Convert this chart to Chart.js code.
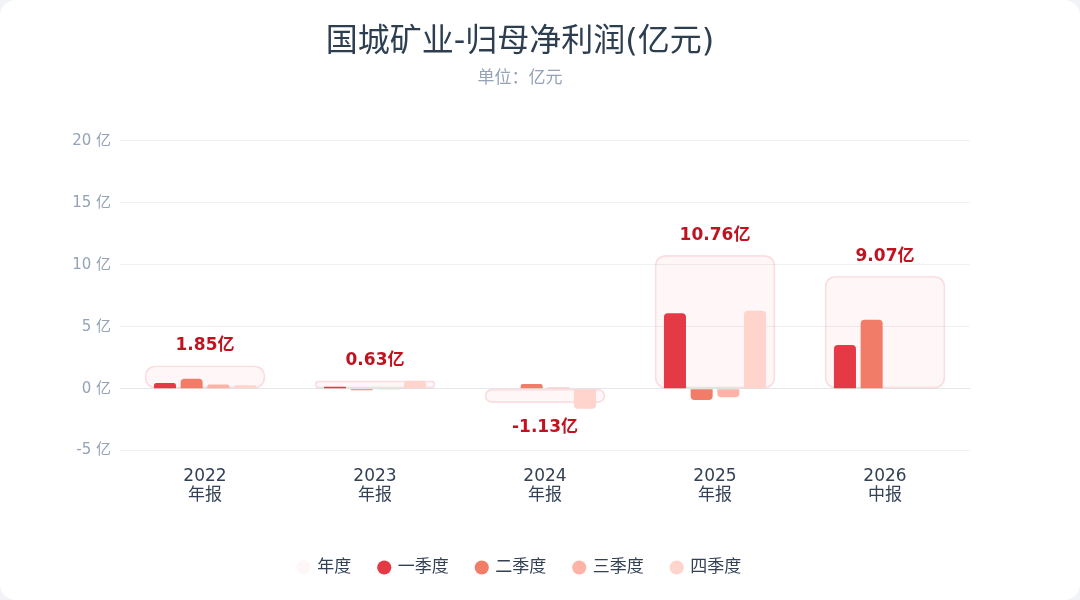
<!doctype html>
<html lang="zh">
<head>
    <meta charset="utf-8">
    <title>国城矿业-归母净利润</title>
    <script src="https://cdn.jsdelivr.net/npm/chart.js"></script>
    <style>
        body { margin: 0; background: #f1f3f6; }
        .card { width: 1080px; height: 600px; background: #fff; border-radius: 16px; overflow: hidden; }
    </style>
</head>
<body>
<div class="card">
    <canvas id="profit-chart" width="1080" height="600"></canvas>
</div>
<script>
    // DATA (亿元)
    const categories = [['2022', '年报'], ['2023', '年报'], ['2024', '年报'], ['2025', '年报'], ['2026', '中报']]
    const annual = [1.85, 0.63, -1.13, 10.76, 9.07]
    const q1 = [0.45, 0.15, 0.03, 6.09, 3.52]
    const q2 = [0.80, -0.12, 0.38, -0.92, 5.55]
    const q3 = [0.33, -0.03, 0.09, -0.70, null]
    const q4 = [0.27, 0.63, -1.63, 6.29, null]
    const seriesNames = ['年度', '一季度', '二季度', '三季度', '四季度']

    const latin = '"DejaVu Sans", "Noto Sans CJK SC", sans-serif'

    // draws "1.85亿" above / below each yearly box
    const valueLabels = {
        id: 'valueLabels',
        afterDatasetsDraw(chart) {
            const ctx = chart.ctx
            const meta = chart.getDatasetMeta(0)
            ctx.save()
            ctx.font = 'bold 17px ' + latin
            ctx.fillStyle = '#c1121f'
            ctx.textAlign = 'center'
            ctx.textBaseline = 'middle'
            meta.data.forEach((bar, i) => {
                const v = annual[i]
                const y = v >= 0 ? bar.y - 20 : bar.y + 25
                ctx.fillText(v.toFixed(2) + '亿', bar.x, y)
            })
            ctx.restore()
        }
    }

    const quarter = (label, data, color) => ({
        label: label,
        data: data,
        backgroundColor: color,
        borderWidth: 0,
        borderRadius: 4,
        borderSkipped: 'bottom',
        categoryPercentage: 0.628,
        barPercentage: 0.825,
        order: 0
    })

    new Chart(document.getElementById('profit-chart').getContext('2d'), {
        type: 'bar',
        plugins: [valueLabels],
        data: {
            labels: categories,
            datasets: [
                {
                    label: seriesNames[0],
                    data: annual,
                    backgroundColor: 'rgba(230,57,70,0.045)',
                    borderColor: 'rgba(230,57,70,0.15)',
                    borderWidth: 1,
                    borderRadius: 10,
                    borderSkipped: false,
                    grouped: false,
                    barThickness: 120,
                    order: 1
                },
                quarter(seriesNames[1], q1, '#e63946'),
                quarter(seriesNames[2], q2, '#f17c68'),
                quarter(seriesNames[3], q3, '#fdb3a7'),
                quarter(seriesNames[4], q4, '#fed4cc')
            ]
        },
        options: {
            responsive: false,
            animation: false,
            layout: { padding: { left: 40, right: 80, top: 0, bottom: 14 } },
            plugins: {
                tooltip: { enabled: false },
                title: {
                    display: true,
                    text: '国城矿业-归母净利润(亿元)',
                    color: '#2c3e50',
                    font: { family: latin, size: 32, weight: 'normal' },
                    padding: { top: 23, bottom: 5 }
                },
                subtitle: {
                    display: true,
                    text: '单位：亿元',
                    color: '#94a3b8',
                    font: { family: '"Noto Sans CJK JP", sans-serif', size: 17 },
                    padding: { top: 0, bottom: 54 }
                },
                legend: {
                    position: 'bottom',
                    labels: {
                        usePointStyle: true,
                        pointStyle: 'circle',
                        boxWidth: 10,
                        boxHeight: 10,
                        padding: 28,
                        color: '#334155',
                        font: { family: latin, size: 17 },
                        sort: (a, b) => a.datasetIndex - b.datasetIndex,
                        generateLabels(chart) {
                            const items = Chart.defaults.plugins.legend.labels.generateLabels(chart)
                            items.forEach(it => { it.lineWidth = 0 })
                            return items
                        }
                    }
                }
            },
            scales: {
                x: {
                    afterFit(scale) { scale.height += 17 },
                    grid: { display: false },
                    border: { display: false },
                    ticks: {
                        color: '#334155',
                        padding: 9,
                        font: { family: latin, size: 17, lineHeight: 1.1 }
                    }
                },
                y: {
                    min: -5,
                    max: 20,
                    afterFit(scale) { scale.width = 80 },
                    border: { display: false },
                    grid: {
                        drawTicks: false,
                        color: c => c.tick && c.tick.value === 0 ? '#e4e7ec' : '#eef0f4'
                    },
                    ticks: {
                        stepSize: 5,
                        padding: 9,
                        color: '#94a3b8',
                        font: { family: latin, size: 15 },
                        callback: v => v + ' 亿'
                    }
                },
                yRight: {
                    position: 'right',
                    afterFit(scale) { scale.width = 30 },
                    grid: { display: false },
                    border: { display: false },
                    ticks: { display: false }
                }
            }
        }
    })
</script>
</body>
</html>
